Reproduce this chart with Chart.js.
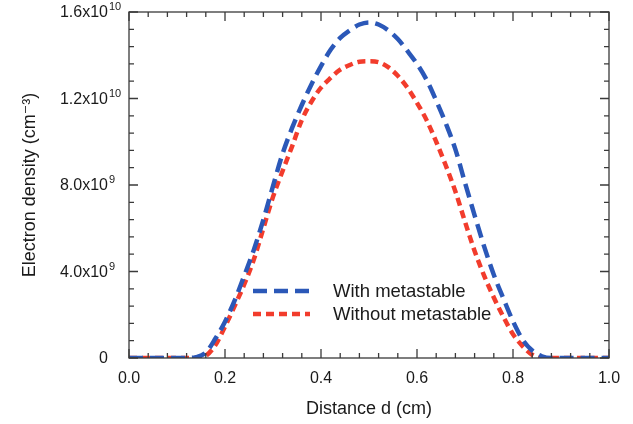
<!DOCTYPE html>
<html>
<head>
<meta charset="utf-8">
<script src="https://cdn.jsdelivr.net/npm/chart.js@4"></script>
<style>
  html, body { margin: 0; padding: 0; background: #fff; }
  #wrap { width: 633px; height: 424px; }
</style>
</head>
<body>
<div id="wrap"><canvas id="densityChart" width="633" height="424"></canvas></div>
<script>
// Data (electron density in units of 1e9 cm^-3)
const distance = [0, 0.04, 0.08, 0.12,
    0.14, 0.16, 0.18, 0.20, 0.22, 0.24, 0.26, 0.28, 0.30, 0.32, 0.34, 0.36, 0.38, 0.40,
    0.42, 0.44, 0.46, 0.48, 0.50, 0.52, 0.54, 0.56, 0.58, 0.60, 0.62, 0.64, 0.66, 0.68,
    0.70, 0.72, 0.74, 0.76, 0.78, 0.80, 0.82, 0.84, 0.86,
    0.88, 0.92, 0.96, 1.0];
const withMetastable = [0, 0, 0, 0,
    0.04, 0.25, 0.9, 1.68, 2.65, 3.8, 5.0, 6.4, 7.95, 9.45, 10.65, 11.7, 12.65, 13.5,
    14.25, 14.8, 15.15, 15.42, 15.52, 15.42, 15.15, 14.75, 14.2, 13.6, 12.86, 11.9, 10.85, 9.65,
    8.1, 6.6, 5.15, 3.85, 2.75, 1.7, 0.85, 0.35, 0.08,
    0, 0, 0, 0];
const withoutMetastable = [0, 0, 0, 0,
    0, 0.1, 0.6, 1.45, 2.4, 3.4, 4.55, 6.0, 7.45, 8.65, 9.8, 11.0, 11.85, 12.5,
    12.95, 13.33, 13.55, 13.7, 13.72, 13.68, 13.45, 13.05, 12.5, 11.8, 11.0, 10.0, 8.9, 7.7,
    6.3, 4.95, 3.8, 2.8, 1.9, 1.1, 0.55, 0.15, 0,
    0, 0, 0, 0];
const seriesNames = ['With metastable', 'Without metastable'];
// y tick labels: mantissa part and power of ten
const yTickBase = ['0', '4.0x10', '8.0x10', '1.2x10', '1.6x10'];
const yTickExp = ['', '9', '9', '10', '10'];

const FONT = "'Liberation Sans', Arial, 'DejaVu Sans', sans-serif";
const TEXT = '#1a1a1a';
const blue = '#2b58b8';
const red = '#f23c2c';

const toPoints = (ys) => distance.map((x, i) => ({ x: x, y: ys[i] }));

// inward ticks on all four sides plus the frame
const frameTicks = {
    id: 'frameTicks',
    afterDraw(chart) {
        const { ctx, chartArea: a, scales: { x, y } } = chart;
        ctx.save();
        ctx.strokeStyle = '#3a3a3a';
        ctx.lineWidth = 1.3;
        ctx.strokeRect(a.left, a.top, a.right - a.left, a.bottom - a.top);
        ctx.beginPath();
        for (let i = 0; i <= 25; i++) {
            const px = x.getPixelForValue(i * 0.04);
            const len = (i % 5 === 0) ? 9 : 5;
            ctx.moveTo(px, a.bottom); ctx.lineTo(px, a.bottom - len);
            ctx.moveTo(px, a.top); ctx.lineTo(px, a.top + len);
        }
        for (let i = 0; i <= 20; i++) {
            const py = y.getPixelForValue(i * 0.8);
            const len = (i % 5 === 0) ? 9 : 5;
            ctx.moveTo(a.left, py); ctx.lineTo(a.left + len, py);
            ctx.moveTo(a.right, py); ctx.lineTo(a.right - len, py);
        }
        ctx.stroke();

        // y tick labels with superscript exponents
        ctx.fillStyle = TEXT;
        ctx.textBaseline = 'middle';
        y.ticks.forEach((t, i) => {
            const py = y.getPixelForValue(t.value);
            const xr = a.left - 21;
            ctx.font = '16px ' + FONT;
            ctx.textAlign = 'right';
            ctx.fillText(yTickBase[i], xr, py + 1);
            if (yTickExp[i]) {
                ctx.font = '11px ' + FONT;
                ctx.textAlign = 'left';
                ctx.fillText(yTickExp[i], xr + 1, py - 5);
            }
        });
        ctx.restore();
    }
};

// legend drawn inside the plot area
const insideLegend = {
    id: 'insideLegend',
    afterDraw(chart) {
        const { ctx } = chart;
        ctx.save();
        ctx.font = '18.5px ' + FONT;
        ctx.textBaseline = 'middle';
        chart.data.datasets.forEach((ds, i) => {
            const yy = 291 + i * 23;
            ctx.strokeStyle = ds.borderColor;
            ctx.lineWidth = ds.borderWidth;
            ctx.setLineDash(ds.borderDash);
            ctx.beginPath();
            ctx.moveTo(253, yy);
            ctx.lineTo(310, yy);
            ctx.stroke();
            ctx.setLineDash([]);
            ctx.fillStyle = TEXT;
            ctx.fillText(ds.label, 333, yy + 1);
        });
        ctx.restore();
    }
};

const densityChart = new Chart(document.getElementById('densityChart'), {
    type: 'line',
    data: {
        datasets: [{
            label: seriesNames[0],
            data: toPoints(withMetastable),
            borderColor: blue,
            borderWidth: 4.5,
            borderDash: [14, 7],
            pointRadius: 0,
            cubicInterpolationMode: 'monotone',
            fill: false
        }, {
            label: seriesNames[1],
            data: toPoints(withoutMetastable),
            borderColor: red,
            borderWidth: 4.5,
            borderDash: [8, 5],
            pointRadius: 0,
            cubicInterpolationMode: 'monotone',
            fill: false
        }]
    },
    options: {
        responsive: false,
        animation: false,
        layout: { padding: { top: 12, right: 24, left: 19, bottom: 0 } },
        plugins: {
            legend: { display: false },
            tooltip: { enabled: false }
        },
        scales: {
            x: {
                type: 'linear',
                min: 0,
                max: 1,
                afterFit: (scale) => { scale.height = 66; },
                grid: { display: false, drawTicks: false },
                border: { display: false },
                ticks: {
                    stepSize: 0.2,
                    padding: 11,
                    color: TEXT,
                    font: { family: FONT, size: 16 },
                    callback: (v) => v.toFixed(1)
                },
                title: {
                    display: true,
                    text: 'Distance d (cm)',
                    color: TEXT,
                    font: { family: FONT, size: 18 },
                    padding: { top: 6 }
                }
            },
            y: {
                min: 0,
                max: 16,
                afterFit: (scale) => { scale.width = 110; },
                grid: { display: false, drawTicks: false },
                border: { display: false },
                ticks: {
                    stepSize: 4,
                    display: false
                },
                title: {
                    display: true,
                    text: 'Electron density (cm\u207B\u00B3)',
                    color: TEXT,
                    font: { family: FONT, size: 18 },
                    padding: 0
                }
            }
        }
    },
    plugins: [frameTicks, insideLegend]
});
</script>
</body>
</html>
